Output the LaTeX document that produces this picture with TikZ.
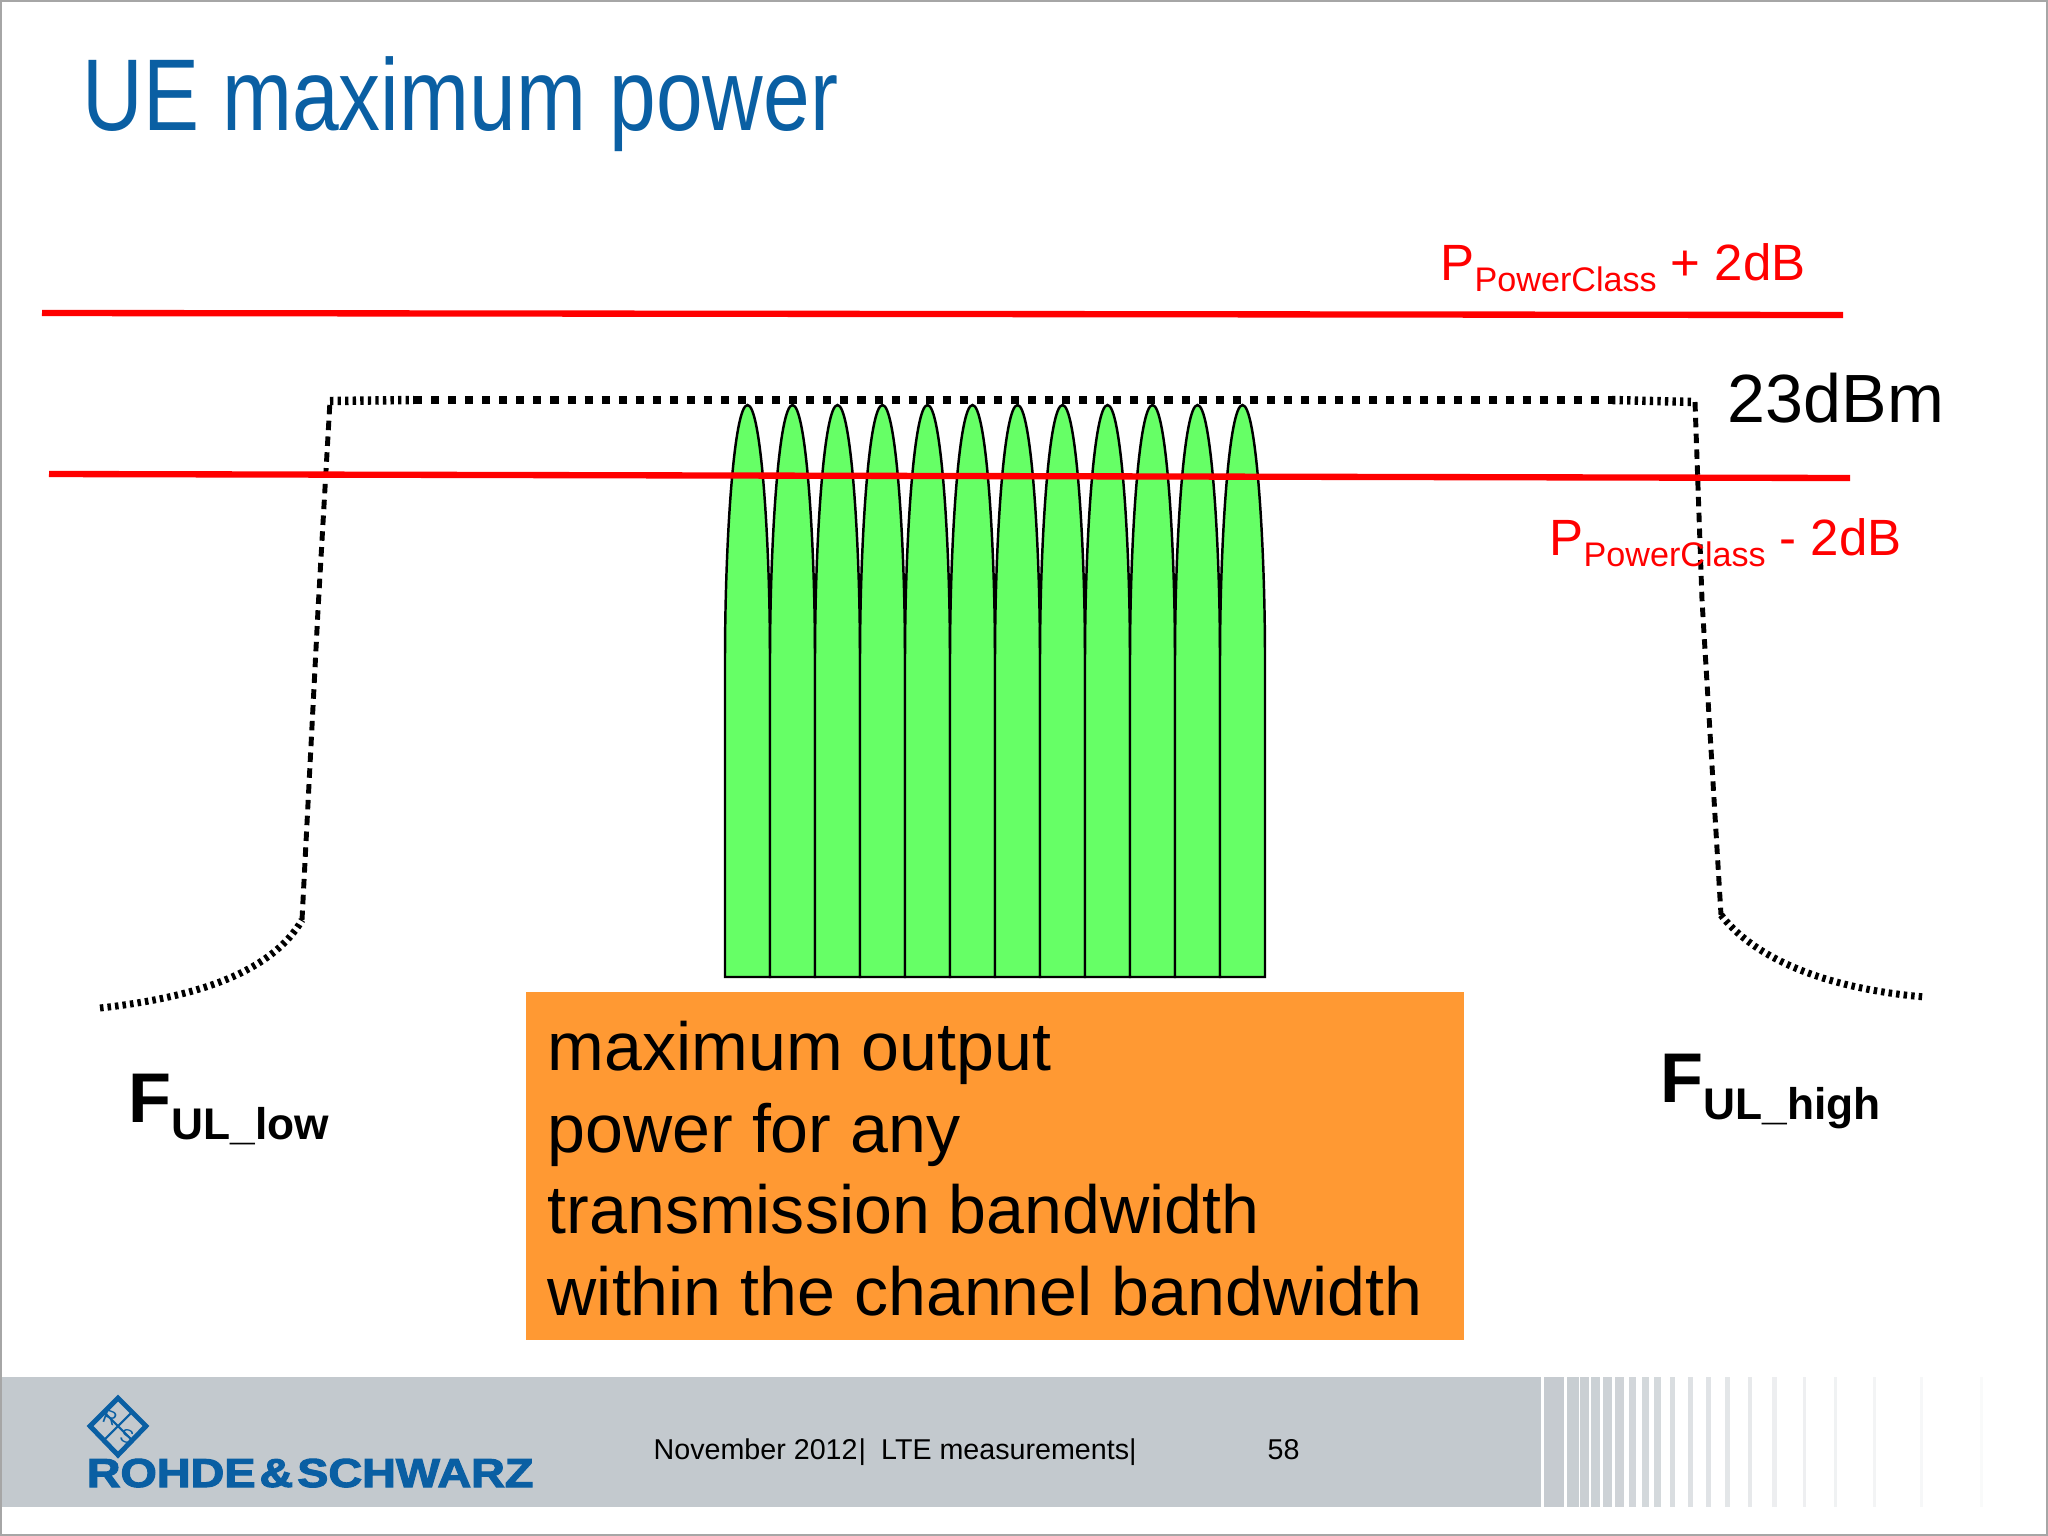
\documentclass[tikz,border=0pt]{standalone}
\usepackage{fontspec}
\setmainfont{Liberation Sans}
\newfontfamily\logofont[FakeBold=2.5]{Liberation Sans Bold}
\usepackage{tikz}
\definecolor{rsblue}{HTML}{0A5FA3}
\definecolor{bandgrey}{HTML}{C3C9CE}
\definecolor{carrier}{HTML}{66FF66}
\definecolor{notebox}{HTML}{FF9933}
\tikzset{
    limitline/.style={red, line width=1.8pt},
    maskflat/.style={line width=2.4pt, dash pattern=on 2.3pt off 2.55pt},
    maskfine/.style={line width=2.4pt, dash pattern=on 0.95pt off 1.2pt},
    maskside/.style={line width=1.4pt, dash pattern=on 2.7pt off 1.8pt},
    masktail/.style={line width=2pt, dash pattern=on 1pt off 1.15pt},
    carrierbump/.style={draw=black, fill=carrier, line width=0.7pt},
    limitlabel/.style={red, anchor=base west, inner sep=0pt, font=\fontsize{14.5}{18}\selectfont},
    edgelabel/.style={black, anchor=base west, inner sep=0pt, font=\bfseries\fontsize{20}{24}\selectfont},
    footerlabel/.style={black, anchor=base west, inner sep=0pt, font=\fontsize{8.15}{10}\selectfont}
}
\newcommand{\lowtext}[3]{\raisebox{#1}{\fontsize{#2}{#2}\selectfont #3}}
\begin{document}
\begin{tikzpicture}[x=0.01cm, y=-0.01cm]
    \useasboundingbox (0,0) rectangle (2048,1536);
    \fill[white] (0,0) rectangle (2048,1536);

    % Footer band and its fading stripes
    \fill[bandgrey] (0,1377) rectangle (1541,1507);
    \foreach \sx/\sw/\so in {1544/20/95, 1567/11.5/90, 1580/9/88, 1591/9/85, 1603/9/82,
        1615/9/80, 1629/7/75, 1642/7/72, 1654/7/70, 1670/5/62, 1688/5/55, 1706/5/50,
        1725/5/45, 1748/4/40, 1772/5/30, 1803/2.5/28, 1834/2.5/24, 1873/2.5/20, 1920/2.5/14, 1980/3/9}
        \fill[bandgrey, opacity=\so/100] (\sx,1377) rectangle ++(\sw,130);

    % Frame round the slide
    \draw[gray!70, line width=0.5pt] (1,1) rectangle (2047,1535);

    % Title
    \node[rsblue, anchor=base west, inner sep=0pt, font=\fontsize{29}{34}\selectfont,
        xscale=0.823, transform shape] (title) at (82,130) {UE maximum power};

    % Define coordinates for the mask corners
    \coordinate (TailL) at (100,1008);
    \coordinate (FootL) at (302,920);
    \coordinate (KneeL) at (318,610);
    \coordinate (TopL) at (330,401);
    \coordinate (FlatL) at (414,400);
    \coordinate (FlatR) at (1612,400);
    \coordinate (TopR) at (1695,402);
    \coordinate (KneeR) at (1702,600);
    \coordinate (FootR) at (1721,915);
    \coordinate (TailR) at (1925,997);

    % Draw the dotted power mask
    \draw[masktail] (TailL) .. controls (190,998) and (270,975) .. (FootL);
    \draw[maskside] (FootL) -- (KneeL) -- (TopL);
    \draw[maskfine] (TopL) -- (FlatL);
    \draw[maskflat] (FlatL) -- (FlatR);
    \draw[maskfine] (FlatR) -- (TopR);
    \draw[maskside] (TopR) -- (KneeR) -- (FootR);
    \draw[masktail] (FootR) .. controls (1760,965) and (1840,990) .. (TailR);

    % Draw the twelve carriers
    \foreach \n in {0,...,11}
        \draw[carrierbump, shift={(\n*45,0)}] (725,977) -- (725,660)
            .. controls (725,540) and (734,405) .. (747.5,405)
            .. controls (761,405) and (770,540) .. (770,660) -- (770,977) -- cycle;

    % Draw the two limit lines
    \coordinate (UpperL) at (42,313);
    \coordinate (UpperR) at (1843,315);
    \coordinate (LowerL) at (49,474);
    \coordinate (LowerR) at (1850,478);
    \draw[limitline] (UpperL) -- (UpperR);
    \draw[limitline] (LowerL) -- (LowerR);

    % Labels of the lines and the mask
    \node[limitlabel] (upperlabel) at (1440,280) {P\lowtext{-3.2pt}{9.7}{PowerClass} + 2dB};
    \node[limitlabel] (lowerlabel) at (1549,555) {P\lowtext{-3.2pt}{9.7}{PowerClass} - 2dB};
    \node[anchor=base west, inner sep=0pt, font=\fontsize{19.4}{24}\selectfont] (level) at (1727,422) {23dBm};
    \node[edgelabel] (lowedge) at (128,1122) {F\lowtext{-5pt}{12.6}{UL\_low}};
    \node[edgelabel] (highedge) at (1660,1102) {F\lowtext{-5pt}{12.6}{UL\_high}};

    % Orange note
    \fill[notebox] (526,992) rectangle (1464,1340);
    \node[anchor=north west, align=left, inner sep=0pt, font=\fontsize{19.37}{23.3}\selectfont] (note) at (547,1020)
        {maximum output\\power for any\\transmission bandwidth\\within the channel bandwidth};

    % Logo
    \coordinate (LogoN) at (118,1398);
    \coordinate (LogoE) at (146,1426);
    \coordinate (LogoS) at (118,1455);
    \coordinate (LogoW) at (90,1426);
    \draw[rsblue, line width=1.4pt] (LogoN) -- (LogoE) -- (LogoS) -- (LogoW) -- cycle;
    \draw[rsblue, line width=0.6pt] (104,1412) -- (132,1440) (132,1412) -- (104,1440);
    \node[rsblue, inner sep=0pt, rotate=-20, font=\fontsize{5.5}{6}\selectfont] (logoR) at (110,1418) {R};
    \node[rsblue, inner sep=0pt, rotate=-20, font=\fontsize{5.5}{6}\selectfont] (logoS) at (127,1436) {S};
    \node[rsblue, anchor=base west, inner sep=0pt, font=\logofont\fontsize{11.5}{14}\selectfont,
        xscale=1.155, transform shape] (logotext) at (86,1487) {ROHDE\kern 1pt\&\kern 1pt SCHWARZ};

    % Footer text
    \node[footerlabel] (footer) at (653,1459) {November 2012\kern 0.3pt|\kern 4.3pt LTE measurements|};
    \node[footerlabel] (page) at (1267,1459) {58};
\end{tikzpicture}
\end{document}
